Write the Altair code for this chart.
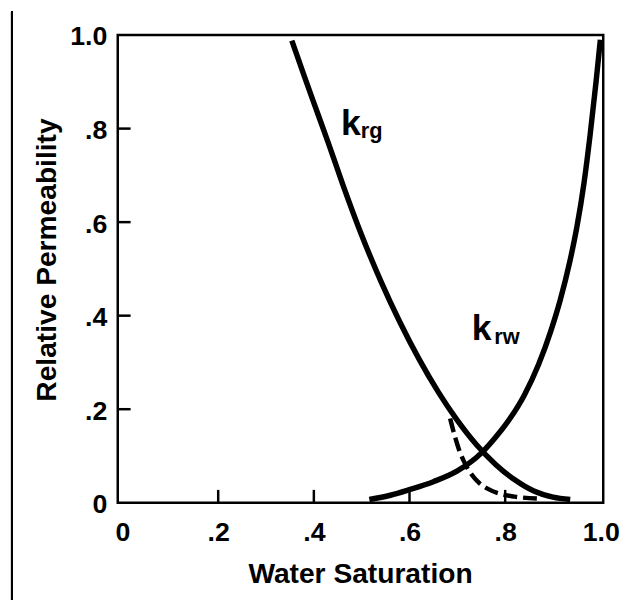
import altair as alt
import pandas as pd

# ---- data ----
krg_sw = [0.354, 0.380, 0.400, 0.430, 0.460, 0.500, 0.540, 0.580, 0.620, 0.660,
          0.700, 0.740, 0.780, 0.820, 0.860, 0.900, 0.936]
krg_kr = [0.988, 0.912, 0.855, 0.770, 0.682, 0.572, 0.474, 0.386, 0.307, 0.237,
          0.176, 0.124, 0.082, 0.049, 0.025, 0.012, 0.007]

krw_sw = [0.516, 0.560, 0.600, 0.650, 0.700, 0.750, 0.780, 0.810, 0.840, 0.870,
          0.895, 0.915, 0.935, 0.950, 0.965, 0.978, 0.990, 0.999]
krw_kr = [0.007, 0.016, 0.028, 0.045, 0.068, 0.106, 0.140, 0.180, 0.230, 0.296,
          0.366, 0.433, 0.515, 0.590, 0.685, 0.790, 0.900, 0.990]

dash_sw = [0.685, 0.694, 0.703, 0.714, 0.728, 0.745, 0.765, 0.790, 0.820, 0.870]
dash_kr = [0.180, 0.145, 0.115, 0.088, 0.063, 0.043, 0.029, 0.019, 0.013, 0.009]

tick_values = [0.0, 0.2, 0.4, 0.6, 0.8, 1.0]
inner_ticks = [0.2, 0.4, 0.6, 0.8]

big_text = ["k", "k"]
big_x = [0.457, 0.730]
big_y = [0.786, 0.349]
sub_text = ["rg", "rw"]
sub_x = [0.498, 0.777]
sub_y = [0.779, 0.340]

FONT = "Liberation Sans"
W, H = 491, 473

label_expr = ("datum.value == 0 ? '0' : (datum.value >= 0.999 ? '1.0' : "
              "replace(format(datum.value, '.1f'), '0.', '.'))")

xscale = alt.Scale(domain=[-0.01, 1.005], nice=False, zero=False)
yscale = alt.Scale(domain=[0, 1], nice=False)

xaxis = alt.Axis(values=tick_values, labelExpr=label_expr, title="Water Saturation",
                 domain=False, ticks=False, tickSize=0, grid=False,
                 labelFont=FONT, labelFontSize=27, labelFontWeight="bold", labelColor="black",
                 labelBaseline="alphabetic", labelPadding=38, labelFlush=False, labelOverlap=False,
                 titleFont=FONT, titleFontSize=28.5, titleFontWeight="bold", titleColor="black",
                 titleBaseline="alphabetic", titleX=245, titleY=81, titleAlign="center")
yaxis = alt.Axis(values=tick_values, labelExpr=label_expr, title="Relative Permeability",
                 domain=False, ticks=False, tickSize=0, grid=False,
                 labelFont=FONT, labelFontSize=27, labelFontWeight="bold", labelColor="black",
                 labelBaseline="middle", labelPadding=11, labelOffset=2, labelFlush=False,
                 labelOverlap=False, labelAlign="right",
                 titleFont=FONT, titleFontSize=28.5, titleFontWeight="bold", titleColor="black",
                 titleBaseline="alphabetic", titleAngle=270, titleX=-63, titleY=227, titleAlign="center")

krg_df = pd.DataFrame({"sw": krg_sw, "kr": krg_kr})
krw_df = pd.DataFrame({"sw": krw_sw, "kr": krw_kr})
dash_df = pd.DataFrame({"sw": dash_sw, "kr": dash_kr})

base_line = alt.Chart(krg_df).mark_line(color="black", strokeWidth=5.5, interpolate="monotone").encode(
    x=alt.X("sw:Q", scale=xscale, axis=xaxis),
    y=alt.Y("kr:Q", scale=yscale, axis=yaxis),
)
krw_line = alt.Chart(krw_df).mark_line(color="black", strokeWidth=5.5, interpolate="monotone").encode(
    x=alt.X("sw:Q", scale=xscale), y=alt.Y("kr:Q", scale=yscale))
dash_line = alt.Chart(dash_df).mark_line(color="black", strokeWidth=4.5, strokeDash=[14, 6],
                                          interpolate="monotone").encode(
    x=alt.X("sw:Q", scale=xscale), y=alt.Y("kr:Q", scale=yscale))

ticks_df = pd.DataFrame({"t": inner_ticks})
xticks = alt.Chart(ticks_df).mark_rule(color="black", strokeWidth=2.5).encode(
    x=alt.X("t:Q", scale=xscale), y=alt.value(H), y2=alt.value(H - 13))
yticks = alt.Chart(ticks_df).mark_rule(color="black", strokeWidth=2.5).encode(
    y=alt.Y("t:Q", scale=yscale), x=alt.value(0), x2=alt.value(13))

frame = alt.Chart(ticks_df).mark_rule(color="black", strokeWidth=2).encode(
    x=alt.value(-107), y=alt.value(-24), y2=alt.value(575))

big_df = pd.DataFrame({"t": big_text, "x": big_x, "y": big_y})
sub_df = pd.DataFrame({"t": sub_text, "x": sub_x, "y": sub_y})
big = alt.Chart(big_df).mark_text(font=FONT, fontSize=36, fontWeight="bold", color="black",
                                  align="left", baseline="alphabetic").encode(
    x=alt.X("x:Q", scale=xscale), y=alt.Y("y:Q", scale=yscale), text="t:N")
sub = alt.Chart(sub_df).mark_text(font=FONT, fontSize=22, fontWeight="bold", color="black",
                                  align="left", baseline="alphabetic").encode(
    x=alt.X("x:Q", scale=xscale), y=alt.Y("y:Q", scale=yscale), text="t:N")

chart = alt.layer(base_line, krw_line, dash_line, xticks, yticks, frame, big, sub).properties(
    width=W, height=H,
    autosize=alt.AutoSizeParams(type="none"),
    padding={"left": 111, "top": 24, "right": 20, "bottom": 95},
    background="white",
).configure_view(stroke="black", strokeWidth=2.5)

chart.save("out.html", embed_options={"renderer": "svg", "actions": False})
